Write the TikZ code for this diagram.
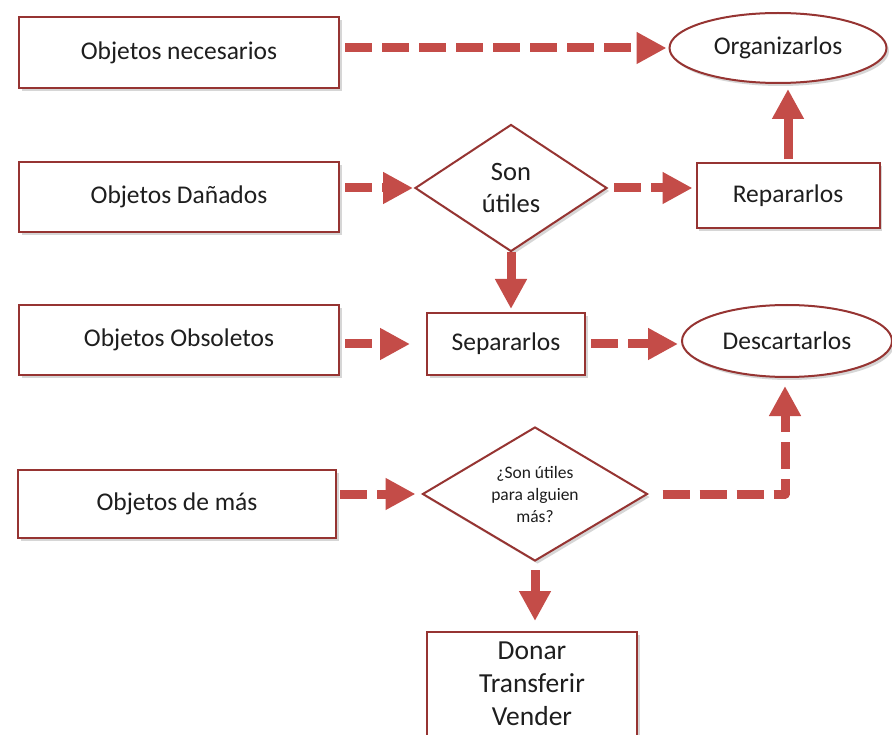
\documentclass[tikz,border=0pt]{standalone}
\usepackage{fontspec}
\setmainfont{Carlito}
\usetikzlibrary{arrows.meta,shapes.geometric,shadows}
\definecolor{edgered}{RGB}{150,52,50}
\definecolor{flowred}{RGB}{196,76,72}
\definecolor{inktext}{RGB}{30,30,30}
\tikzset{
  shade/.style={drop shadow={shadow xshift=2.5pt,shadow yshift=-3pt,fill=black!40,opacity=.4}},
  stepbox/.style={draw=edgered,line width=2pt,fill=white,rectangle,inner sep=0pt,
    text=inktext,font=\fontsize{25.5}{31}\selectfont,align=center,shade},
  roundbox/.style={draw=edgered,line width=2pt,fill=white,ellipse,inner sep=0pt,
    text=inktext,font=\fontsize{25.5}{31}\selectfont,shade},
  askbox/.style={draw=edgered,line width=2pt,fill=white,diamond,inner sep=0pt,
    text=inktext,align=center,shade},
  flow/.style={draw=flowred,line width=9pt,
    -{Triangle[width=30pt,length=30pt]}},
  dashflow/.style={flow,dash pattern=on 27pt off 10pt},
}
\begin{document}
\begin{tikzpicture}[x=1pt,y=-1pt]
\useasboundingbox[fill=white] (0,0) rectangle (892,735);

% left column: kinds of objects
\node[stepbox,minimum width=320pt,minimum height=71pt] (nec) at (179,53) {Objetos necesarios};
\node[stepbox,minimum width=320pt,minimum height=70pt] (dan) at (179,197) {Objetos Dañados};
\node[stepbox,minimum width=320pt,minimum height=70pt] (obs) at (179,340) {Objetos Obsoletos};
\node[stepbox,minimum width=318pt,minimum height=68pt] (mas) at (177,504) {Objetos de más};

% decisions and actions
\node[roundbox,minimum width=217pt,minimum height=70pt] (org) at (778,48) {Organizarlos};
\node[askbox,minimum width=192pt,minimum height=127pt,aspect=1.5,
      font=\fontsize{26.5}{32}\selectfont] (util) at (511,188) {Son\\útiles};
\node[stepbox,minimum width=183pt,minimum height=65pt] (rep) at (788,196) {Repararlos};
\node[stepbox,minimum width=158pt,minimum height=62pt] (sep) at (506,344) {Separarlos};
\node[roundbox,minimum width=210pt,minimum height=72pt] (desc) at (787,341) {Descartarlos};
\node[askbox,minimum width=225pt,minimum height=134pt,aspect=1.68,
      font=\fontsize{17.5}{22}\selectfont] (otro) at (535,494) {¿Son útiles\\para alguien\\más?};
\node[stepbox,minimum width=210pt,minimum height=104pt,
      font=\fontsize{27.5}{33}\selectfont] (don) at (532,684) {Donar\\Transferir\\Vender};

% connectors
\draw[dashflow,shorten <=5pt,shorten >=2pt] (nec.east |- org.west) -- (org.west);
\draw[dashflow,shorten <=5pt,shorten >=1pt] (dan.east |- util.west) -- (util.west);
\draw[dashflow,shorten <=6pt,shorten >=3pt] (util.east) -- (util.east -| rep.west);
\draw[flow,shorten <=3pt,shorten >=5pt] (rep.north) -- (rep.north |- org.south);
\draw[flow,shorten >=3pt] (util.south) -- (util.south |- sep.north);
\draw[dashflow,shorten <=5pt,shorten >=16pt] (obs.east |- sep.west) -- (sep.west);
\draw[dashflow,shorten <=5pt,shorten >=3pt] (sep.east) -- (sep.east -| desc.west);
\draw[flow,shorten <=8pt,shorten >=10pt] (otro.south) -- (otro.south |- don.north);
\draw[dashflow,shorten <=3pt,shorten >=6pt] (mas.east |- otro.west) -- (otro.west);
\draw[dashflow,line join=round,shorten <=14pt,shorten >=8pt]
  (otro.east) -- ([xshift=-2pt]otro.east -| desc.south) -- ([xshift=-2pt]desc.south);
\end{tikzpicture}
\end{document}
